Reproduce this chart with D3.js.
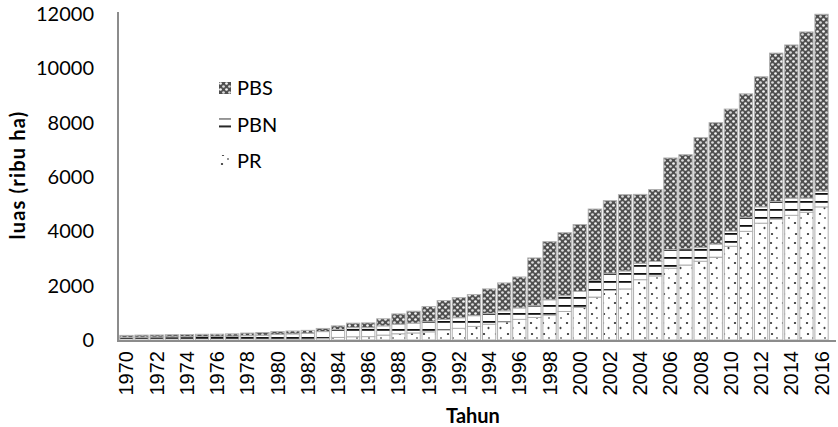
<!DOCTYPE html>
<html>
<head>
<meta charset="utf-8">
<script src="https://cdn.jsdelivr.net/npm/d3@7"></script>
<style>
  body { margin: 0; background: #fff; }
  svg { display: block; }
</style>
</head>
<body>
<div id="chart"></div>
<script>
// luas areal (ribu ha) per status pengusahaan

const years = d3.range(1970, 2017);

const prValues = [
    0, 0, 0, 0, 0, 0, 0, 0, 0, 5,
    6, 10, 25, 60, 95, 120, 125, 180, 230, 260,
    300, 370, 430, 500, 580, 670, 760, 830, 920, 1050,
    1200, 1580, 1830, 1880, 2220, 2360, 2640, 2760, 2900, 3050,
    3450, 4000, 4300, 4450, 4590, 4700, 4900
];

const pbnValues = [
    100, 105, 110, 118, 122, 130, 135, 140, 160, 170,
    205, 215, 225, 250, 290, 335, 330, 340, 350, 360,
    375, 385, 390, 395, 395, 405, 420, 430, 560, 580,
    590, 610, 630, 660, 605, 530, 690, 600, 500, 480,
    560, 520, 600, 650, 630, 520, 580
];

const pbsValues = [
    70, 75, 75, 77, 78, 80, 80, 85, 95, 100,
    99, 105, 105, 115, 135, 165, 175, 260, 380, 440,
    555, 695, 740, 775, 905, 1025, 1140, 1760, 2140, 2320,
    2460, 2630, 2670, 2810, 2535, 2650, 3370, 3460, 4050, 4470,
    4490, 4540, 4790, 5460, 5640, 6120, 6510
];

const seriesKeys = ["PR", "PBN", "PBS"];
const legendOrder = ["PBS", "PBN", "PR"];
const yTicks = [0, 2000, 4000, 6000, 8000, 10000, 12000];
const xTickYears = years.filter(y => y % 2 === 0);

const width = 838;
const height = 427;

const svg = d3.select("#chart")
    .append("svg")
    .attr("width", width)
    .attr("height", height);

const defs = svg.append("defs");

// PBS: dark with light spots
const pbs = defs.append("pattern")
    .attr("id", "pat-PBS")
    .attr("patternUnits", "userSpaceOnUse")
    .attr("width", 6).attr("height", 6);
pbs.append("rect").attr("width", 6).attr("height", 6).attr("fill", "#4f4f4f");
pbs.append("circle").attr("cx", 1.5).attr("cy", 1.5).attr("r", 1.35).attr("fill", "#f6f6f6");
pbs.append("circle").attr("cx", 4.5).attr("cy", 4.5).attr("r", 1.35).attr("fill", "#dcdcdc");

// PBN: horizontal lines
const pbn = defs.append("pattern")
    .attr("id", "pat-PBN")
    .attr("patternUnits", "userSpaceOnUse")
    .attr("width", 8).attr("height", 8);
pbn.append("rect").attr("width", 8).attr("height", 8).attr("fill", "#fff");
pbn.append("rect").attr("y", 1).attr("width", 8).attr("height", 1.8).attr("fill", "#111");

// PR: sparse dots
const pr = defs.append("pattern")
    .attr("id", "pat-PR")
    .attr("patternUnits", "userSpaceOnUse")
    .attr("width", 12).attr("height", 20);
pr.append("rect").attr("width", 12).attr("height", 20).attr("fill", "#fff");
pr.append("ellipse").attr("cx", 3).attr("cy", 3).attr("rx", 1.2).attr("ry", 0.9).attr("fill", "#333");
pr.append("ellipse").attr("cx", 8.5).attr("cy", 8).attr("rx", 1).attr("ry", 1.2).attr("fill", "#444");
pr.append("ellipse").attr("cx", 4).attr("cy", 14).attr("rx", 1.2).attr("ry", 0.9).attr("fill", "#333");
pr.append("ellipse").attr("cx", 9).attr("cy", 18).attr("rx", 0.9).attr("ry", 0.9).attr("fill", "#666");

const x = d3.scaleBand()
    .domain(years)
    .range([118, 830])
    .padding(0.12);

const y = d3.scaleLinear()
    .domain([0, 12000])
    .range([340, 14]);

const table = years.map((yr, i) => ({
    year: yr,
    PR: prValues[i],
    PBN: pbnValues[i],
    PBS: pbsValues[i]
}));

const stacked = d3.stack().keys(seriesKeys)(table);

svg.append("g")
    .selectAll("g")
    .data(stacked)
    .enter().append("g")
    .attr("fill", d => `url(#pat-${d.key})`)
    .selectAll("rect")
    .data(d => d)
    .enter().append("rect")
    .attr("x", d => x(d.data.year))
    .attr("y", d => y(d[1]))
    .attr("width", x.bandwidth())
    .attr("height", d => Math.max(0, y(d[0]) - y(d[1])))
    .attr("stroke", "#b0b0b0")
    .attr("stroke-width", 1);

// y axis
const yAxis = svg.append("g")
    .attr("transform", "translate(118,0)")
    .call(d3.axisLeft(y).tickValues(yTicks).tickSize(0).tickPadding(24).tickFormat(d3.format("d")));
yAxis.select(".domain")
    .attr("stroke", "#8c8c8c")
    .attr("stroke-width", 2)
    .attr("d", `M0,${y(0) + 1}V12`);
yAxis.selectAll("text")
    .attr("font-family", "Lato, sans-serif")
    .attr("font-size", 20)
    .attr("fill", "#000");

// x axis
const xAxis = svg.append("g")
    .attr("transform", `translate(0,${y(0)})`)
    .call(d3.axisBottom(x).tickValues(xTickYears).tickSize(0));
xAxis.select(".domain")
    .attr("stroke", "#8c8c8c")
    .attr("stroke-width", 2)
    .attr("d", "M117,1H836");
xAxis.selectAll("text")
    .attr("font-family", "'Liberation Sans', Arial, sans-serif")
    .attr("font-size", 20)
    .attr("fill", "#000")
    .attr("text-anchor", "end")
    .attr("dy", "0.35em")
    .attr("transform", "translate(0,11) rotate(-90)")
    .attr("x", 0)
    .attr("y", 0);

svg.append("text")
    .attr("x", 473)
    .attr("y", 423)
    .attr("text-anchor", "middle")
    .attr("font-family", "Lato, sans-serif")
    .attr("font-weight", "bold")
    .attr("font-size", 20)
    .text("Tahun");

svg.append("text")
    .attr("transform", "translate(25,175) rotate(-90)")
    .attr("text-anchor", "middle")
    .attr("font-family", "Lato, sans-serif")
    .attr("font-weight", "bold")
    .attr("font-size", 20)
    .attr("letter-spacing", 1.2)
    .text("luas (ribu ha)");

// legend
const legend = svg.append("g")
    .selectAll("g")
    .data(legendOrder)
    .enter().append("g")
    .attr("transform", (d, i) => `translate(219,${88 + i * 36.5})`);

legend.append("rect")
    .attr("y", -6)
    .attr("width", 12)
    .attr("height", 12)
    .attr("fill", d => `url(#pat-${d})`);

legend.append("text")
    .attr("x", 18)
    .attr("dy", "0.35em")
    .attr("font-family", "Lato, sans-serif")
    .attr("font-size", 20)
    .text(d => d);
</script>
</body>
</html>
